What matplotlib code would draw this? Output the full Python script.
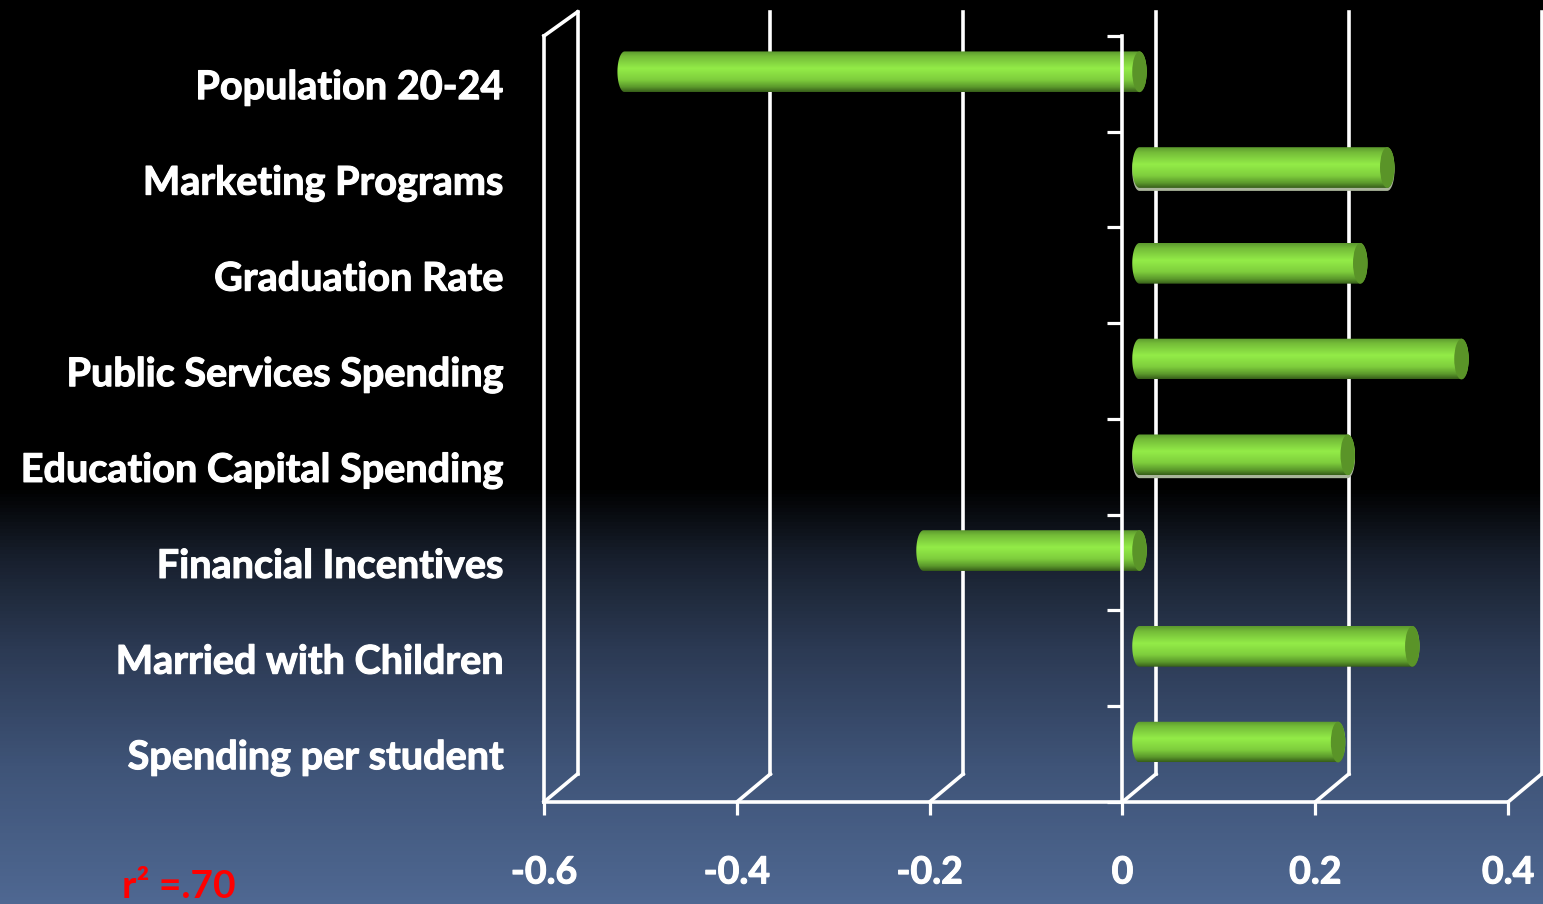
import numpy as np
import matplotlib
matplotlib.use('Agg')
import matplotlib.pyplot as plt
import matplotlib.patheffects as pe
from matplotlib.colors import LinearSegmentedColormap
from matplotlib.patches import Ellipse, Polygon
from matplotlib.transforms import IdentityTransform, blended_transform_factory, offset_copy

plt.rcParams['font.family'] = ['Lato', 'DejaVu Sans']

categories = ['Population 20-24', 'Marketing Programs', 'Graduation Rate',
              'Public Services Spending', 'Education Capital Spending',
              'Financial Incentives', 'Married with Children', 'Spending per student']
values = [-0.534, 0.257, 0.229, 0.334, 0.216, -0.224, 0.283, 0.206]
x_ticks = [-0.6, -0.4, -0.2, 0, 0.2, 0.4]
x_labels = ['-0.6', '-0.4', '-0.2', '0', '0.2', '0.4']

W, H = 1543, 904
BAR_H = 0.425
CAP_W = 0.015
ROW = 766 / 8  # pixels per category

fig = plt.figure(figsize=((W + 0.1) / 100, (H + 0.1) / 100), dpi=100)

# page background, black then fading to slate blue
bg = fig.add_axes([0, 0, 1, 1], zorder=-1)
bg_cmap = LinearSegmentedColormap.from_list('bg', [
    (0, '#000000'), (0.54, '#000000'), (0.62, '#18202e'),
    (0.72, '#2c3a54'), (0.85, '#3f5478'), (1, '#4f6892')])
bg.imshow(np.linspace(0, 1, 256).reshape(-1, 1), cmap=bg_cmap, aspect='auto', vmin=0, vmax=1)
bg.axis('off')

ax = fig.add_axes([544 / W, 1 - 802 / H, 964 / W, 766 / H])
ax.patch.set_visible(False)

# back wall of the fake 3d box and the bars sit behind the front plane
back = offset_copy(ax.transData, fig=fig, x=33.5, y=28, units='dots')
mid = offset_copy(ax.transData, fig=fig, x=17, y=12, units='dots')
under = offset_copy(ax.transData, fig=fig, x=17, y=9, units='dots')

for x in x_ticks:
    ax.plot([x, x], [8, 4 / ROW], color='white', lw=2.6, transform=back, clip_on=False, zorder=1)
    ax.plot([x, x + 33.5 / 964], [8, 8 - 28 / ROW], color='white', lw=2.6, clip_on=False, zorder=1)
ax.plot([-0.6, -0.6], [0, 8], color='white', lw=2.6, clip_on=False, zorder=1)
ax.plot([-0.6, -0.6 + 33.5 / 964], [0, -24 / ROW], color='white', lw=2.6, clip_on=False, zorder=1)

grad = LinearSegmentedColormap.from_list('cyl', [
    (0, '#5c9a2e'), (0.12, '#74bb38'), (0.42, '#93ec48'), (0.7, '#7fce3d'),
    (0.88, '#5c9a2c'), (1, '#38601a')])
pos = np.arange(len(categories)) + 0.5

t = np.linspace(0, np.pi, 40)
for y, v, name in zip(pos, values, categories):
    lo, hi = min(v, 0), max(v, 0)
    # outline: rounded both ends
    left = np.column_stack([lo - CAP_W / 2 * np.sin(t), y - BAR_H / 2 * np.cos(t)])
    right = np.column_stack([hi + CAP_W / 2 * np.sin(t), y + BAR_H / 2 * np.cos(t)])
    shape = np.vstack([left, right])
    # two of the bars have a pale rim underneath
    if name in ('Marketing Programs', 'Education Capital Spending'):
        ax.add_patch(Polygon(shape, closed=True, transform=under, fc='#a9b59a', ec='none', zorder=2))
    outline = Polygon(shape, closed=True, transform=mid, fc='none', ec='none')
    ax.add_patch(outline)
    im = ax.imshow(np.linspace(0, 1, 64).reshape(-1, 1), cmap=grad, aspect='auto',
                   extent=[lo - CAP_W, hi + CAP_W, y + BAR_H / 2, y - BAR_H / 2],
                   transform=mid, zorder=2.5)
    im.set_clip_path(outline)
    ax.add_patch(Ellipse((hi, y), CAP_W, BAR_H, transform=mid, fc='#5a9428', ec='none', zorder=3))

ax.set_xlim(-0.6, 0.4)
ax.set_ylim(8, 0)

for s in ['top', 'right']:
    ax.spines[s].set_visible(False)
ax.spines['left'].set_position(('data', 0))
for s in ['left', 'bottom']:
    ax.spines[s].set_color('white')
    ax.spines[s].set_linewidth(2.6)
    ax.spines[s].set_zorder(4)

thick = [pe.withStroke(linewidth=0.8, foreground='white')]

ax.set_yticks(range(9))
ax.set_yticklabels([])
ax.tick_params(axis='y', color='white', width=2.3, length=10.5, zorder=4)
ax.set_xticks(x_ticks)
ax.set_xticklabels(x_labels, fontsize=27, fontweight='bold', color='white', path_effects=thick)
ax.tick_params(axis='x', color='white', width=2.3, length=9.5, pad=29)

label_tr = blended_transform_factory(IdentityTransform(), ax.transData)
for y, name in zip(pos, categories):
    ax.text(504, y + 0.04, name, transform=label_tr, ha='right', va='center', fontsize=28.5,
            fontweight='bold', color='white', path_effects=thick)

fig.text(122 / W, 1 - 898 / H, 'r² =.70', color='#ff0000', fontsize=28, fontweight='bold', ha='left', va='baseline')

fig.savefig('out.png', dpi=100)
